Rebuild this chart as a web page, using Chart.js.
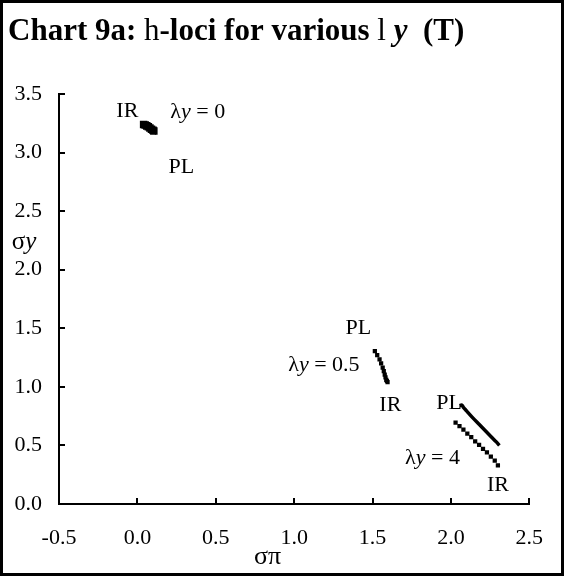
<!DOCTYPE html>
<html>
<head>
<meta charset="utf-8">
<script src="https://cdn.jsdelivr.net/npm/chart.js@4"></script>
<style>
  html, body { margin: 0; padding: 0; background: #fff; }
  canvas { display: block; }
</style>
</head>
<body>
<canvas id="chart" width="564" height="576"></canvas>
<script>
// Axis tick values
const xTicks = [-0.5, 0, 0.5, 1, 1.5, 2, 2.5];
const yTicks = [0, 0.5, 1, 1.5, 2, 2.5, 3, 3.5];

// lambda y = 0 locus
const lam0X = [0.04, 0.05, 0.06, 0.07, 0.08, 0.09, 0.10, 0.105];
const lam0Y = [3.24, 3.235, 3.228, 3.22, 3.21, 3.20, 3.19, 3.185];

// lambda y = 0.5 locus
const lam05X = [1.515, 1.53, 1.545, 1.555, 1.565, 1.572, 1.578, 1.583, 1.588, 1.592, 1.596];
const lam05Y = [1.305, 1.27, 1.235, 1.20, 1.165, 1.135, 1.105, 1.08, 1.06, 1.05, 1.04];

// lambda y = 4, solid branch
const lam4LineX = [2.055, 2.07, 2.08, 2.10, 2.14, 2.18, 2.22, 2.26, 2.29, 2.31];
const lam4LineY = [0.84, 0.845, 0.825, 0.795, 0.735, 0.68, 0.625, 0.57, 0.53, 0.50];

// lambda y = 4, dotted branch
const lam4DotX = [2.03, 2.055, 2.08, 2.105, 2.13, 2.155, 2.18, 2.205, 2.23, 2.255, 2.28, 2.30];
const lam4DotY = [0.695, 0.665, 0.635, 0.60, 0.57, 0.535, 0.505, 0.47, 0.44, 0.405, 0.37, 0.33];

// text labels inside the plot (data coordinates)
const notes = [
  { parts: [['IR', '']], x: -0.064, y: 3.355 },
  { parts: [['λ', ''], ['y', 'italic'], [' = 0', '']], x: 0.385, y: 3.346 },
  { parts: [['PL', '']], x: 0.28, y: 2.877 },
  { parts: [['PL', '']], x: 1.409, y: 1.502 },
  { parts: [['λ', ''], ['y', 'italic'], [' = 0.5', '']], x: 1.19, y: 1.187 },
  { parts: [['IR', '']], x: 1.614, y: 0.845 },
  { parts: [['PL', '']], x: 1.989, y: 0.862 },
  { parts: [['λ', ''], ['y', 'italic'], [' = 4', '']], x: 1.883, y: 0.393 },
  { parts: [['IR', '']], x: 2.30, y: 0.162 }
];

const SERIF = '"Liberation Serif", "Times New Roman", serif';
const toPts = (xs, ys) => xs.map((x, i) => ({ x: x, y: ys[i] }));

function drawParts(ctx, parts, cx, cy, size) {
  let w = 0;
  parts.forEach(p => {
    ctx.font = p[1] + ' ' + size + 'px ' + SERIF;
    w += ctx.measureText(p[0]).width;
  });
  let x = cx - w / 2;
  parts.forEach(p => {
    ctx.font = p[1] + ' ' + size + 'px ' + SERIF;
    ctx.fillText(p[0], x, cy);
    x += ctx.measureText(p[0]).width;
  });
}

const decorPlugin = {
  id: 'decor',
  afterDraw(chart) {
    const ctx = chart.ctx;
    const xs = chart.scales.x, ys = chart.scales.y;
    const area = chart.chartArea;
    ctx.save();
    ctx.fillStyle = '#000';
    ctx.strokeStyle = '#000';

    // inward tick marks
    ctx.lineWidth = 2;
    ctx.beginPath();
    xTicks.forEach(v => {
      const px = Math.round(xs.getPixelForValue(v));
      ctx.moveTo(px, area.bottom);
      ctx.lineTo(px, area.bottom - 6);
    });
    yTicks.forEach(v => {
      const py = Math.round(ys.getPixelForValue(v));
      ctx.moveTo(area.left, py);
      ctx.lineTo(area.left + 6, py);
    });
    ctx.stroke();

    // notes
    ctx.textBaseline = 'middle';
    ctx.textAlign = 'left';
    notes.forEach(n => {
      drawParts(ctx, n.parts, xs.getPixelForValue(n.x), ys.getPixelForValue(n.y), 22);
    });

    // axis titles
    drawParts(ctx, [['σπ', '']], xs.getPixelForValue(0.83), area.bottom + 53, 26);
    drawParts(ctx, [['σ', ''], ['y', 'italic']], 24, ys.getPixelForValue(2.23), 25);

    // title
    ctx.textBaseline = 'alphabetic';
    const tparts = [
      ['Chart 9a: ', 'bold'], ['h', ''], ['-loci for various ', 'bold'],
      ['l', ''], [' ', 'bold'], ['y', 'bold italic'], ['  (T)', 'bold']
    ];
    let tx = 8;
    tparts.forEach(p => {
      ctx.font = p[1] + ' 31px ' + SERIF;
      ctx.fillText(p[0], tx, 40);
      tx += ctx.measureText(p[0]).width;
    });

    // outer frame
    ctx.lineWidth = 3;
    ctx.strokeRect(1.5, 1.5, 561, 573);
    ctx.restore();
  }
};

const ctx = document.getElementById('chart').getContext('2d');
const chart = new Chart(ctx, {
  type: 'scatter',
  data: {
    datasets: [
      {
        data: toPts(lam0X, lam0Y),
        showLine: true, borderColor: '#000', borderWidth: 4,
        pointStyle: 'rect', pointRadius: 2.5, backgroundColor: '#000'
      },
      {
        data: toPts(lam05X, lam05Y),
        showLine: false, pointStyle: 'rect', pointRadius: 3,
        backgroundColor: '#000', borderColor: '#000', borderWidth: 0
      },
      {
        data: toPts(lam4LineX, lam4LineY),
        showLine: true, borderColor: '#000', borderWidth: 3.5,
        pointRadius: 0, tension: 0.3
      },
      {
        data: toPts(lam4DotX, lam4DotY),
        showLine: false, pointStyle: 'rect', pointRadius: 3,
        backgroundColor: '#000', borderColor: '#000', borderWidth: 0
      }
    ]
  },
  options: {
    responsive: false,
    animation: false,
    layout: { padding: { top: 94, right: 24, left: 0, bottom: 0 } },
    plugins: { legend: { display: false }, tooltip: { enabled: false } },
    scales: {
      x: {
        type: 'linear', min: -0.5, max: 2.5,
        afterBuildTicks: s => { s.ticks = xTicks.map(v => ({ value: v })); },
        afterFit: s => { s.height = 72; },
        grid: { display: false, drawTicks: false },
        border: { display: true, color: '#000', width: 2 },
        ticks: {
          padding: 21, color: '#000', maxRotation: 0,
          font: { family: SERIF, size: 22 },
          callback: v => v.toFixed(1)
        }
      },
      y: {
        type: 'linear', min: 0, max: 3.5,
        afterBuildTicks: s => { s.ticks = yTicks.map(v => ({ value: v })); },
        afterFit: s => { s.width = 59; },
        grid: { display: false, drawTicks: false },
        border: { display: true, color: '#000', width: 2 },
        ticks: {
          padding: 17, color: '#000',
          font: { family: SERIF, size: 22 },
          callback: v => v.toFixed(1)
        }
      }
    }
  },
  plugins: [decorPlugin]
});
</script>
</body>
</html>
